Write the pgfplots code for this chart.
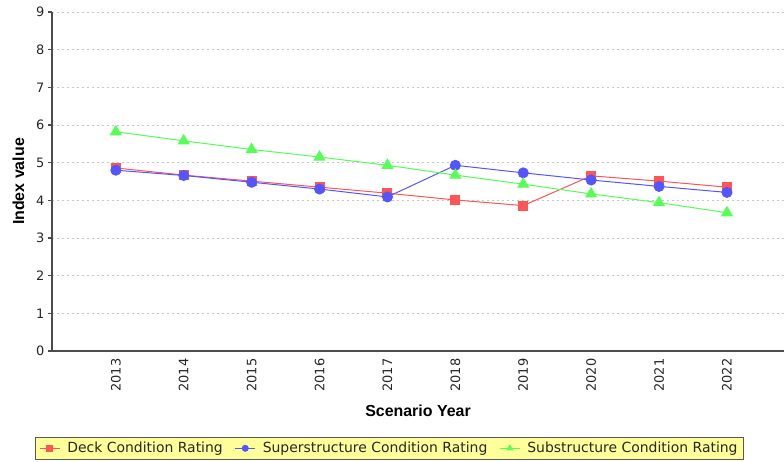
\documentclass[border=0pt]{standalone}
\usepackage{fontspec}
\setmainfont{DejaVu Sans}
\newfontfamily\labelfont{Liberation Sans}
\usepackage{pgfplots}
\pgfplotsset{compat=1.18}
\definecolor{deck}{HTML}{FF5555}
\definecolor{superc}{HTML}{5555FF}
\definecolor{subc}{HTML}{55FF55}
\definecolor{legfill}{HTML}{FFFF99}

\begin{document}
\begin{tikzpicture}
\useasboundingbox (-52bp,-111bp) rectangle (732bp,351bp);
\begin{axis}[
    scale only axis,
    width=732bp, height=339bp,
    xmin=-0.94, xmax=9.84, ymin=0, ymax=9,
    axis lines*=left,
    axis line style={black!70, line width=2bp},
    xtick={0,...,9},
    xticklabels={2013,2014,2015,2016,2017,2018,2019,2020,2021,2022},
    x tick label style={rotate=90, anchor=east},
    ytick={0,...,9},
    ymajorgrids,
    major grid style={black!22, dash pattern=on 2bp off 3bp, line width=0.8bp},
    tick style={black!70, line width=1.2bp},
    major tick length=4bp,
    tick align=outside,
    xtick style={draw=none},
    tick label style={font=\fontsize{13}{15}\selectfont, text=black!85},
    /pgf/number format/assume math mode=true,
    xlabel={Scenario Year}, ylabel={Index value},
    label style={font=\labelfont\bfseries\fontsize{16}{18}\selectfont},
    xlabel style={at={(axis description cs:0.5,-0.177)}, anchor=center},
    ylabel style={at={(axis description cs:-0.046,0.5)}, anchor=center},
    legend columns=-1,
    legend style={at={(axis description cs:0.461,-0.287)}, anchor=center,
        fill=legfill, draw=black!65, line width=1.2bp,
        inner xsep=4bp, inner ysep=3bp,
        font=\fontsize{14}{16}\selectfont, text=black!85,
        /tikz/every odd column/.append style={column sep=5bp},
        /tikz/every even column/.append style={column sep=10bp}},
    legend image code/.code={
        \draw[mark repeat=2,mark phase=2,mark size=3bp] plot coordinates {(0bp,0bp)(10bp,0bp)(20bp,0bp)};},
]
\addplot[deck, line width=1bp, mark=square*, mark size=4.5bp]
    coordinates {(0,4.86)(1,4.67)(2,4.51)(3,4.35)(4,4.19)(5,4.01)(6,3.86)(7,4.65)(8,4.51)(9,4.35)};
\addplot[superc, line width=1bp, mark=*, mark size=5bp]
    coordinates {(0,4.80)(1,4.66)(2,4.48)(3,4.30)(4,4.09)(5,4.93)(6,4.73)(7,4.54)(8,4.37)(9,4.21)};
\addplot[subc, line width=1bp, mark=triangle*, mark size=6bp]
    coordinates {(0,5.82)(1,5.58)(2,5.35)(3,5.15)(4,4.93)(5,4.67)(6,4.43)(7,4.17)(8,3.94)(9,3.67)};
\legend{Deck Condition Rating, Superstructure Condition Rating, Substructure Condition Rating}
\end{axis}
\end{tikzpicture}
\end{document}
